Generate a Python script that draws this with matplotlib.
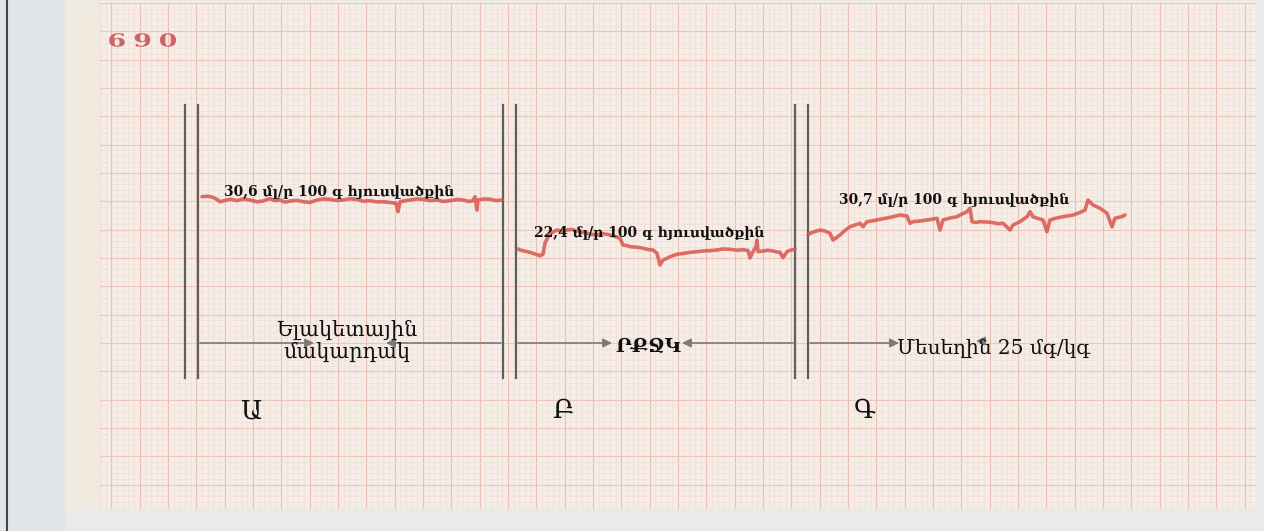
import numpy as np
import matplotlib
matplotlib.use("Agg")
import matplotlib.pyplot as plt
from matplotlib.patches import Rectangle, PathPatch
from matplotlib.textpath import TextPath
from matplotlib.font_manager import FontProperties
from matplotlib.transforms import Affine2D

# Recorder trace (x to the right, y downwards)
trace_a_x = [202, 208, 213, 217, 220, 226, 231, 237, 243, 250, 257, 263, 267, 270, 275, 280, 285,
             290, 297, 303, 310, 317, 323, 330, 337, 343, 350, 357, 363, 370, 377, 383, 390, 396,
             398, 400, 405, 410, 417, 423, 430, 437, 443, 450, 457, 463, 469, 473, 475, 477, 478,
             484, 490, 496, 502]
trace_a_y = [196.7, 196.2, 197.3, 199.5, 201.7, 200.2, 199.3, 200.6, 199.0, 200.0, 201.8, 201.0,
             199.5, 198.7, 200.6, 200.0, 202.2, 201.0, 200.4, 201.7, 202.4, 200.0, 199.0, 199.3,
             200.5, 200.0, 198.8, 199.3, 201.2, 200.7, 201.9, 201.7, 202.5, 203.3, 211.7, 201.7,
             200.8, 200.0, 198.9, 199.3, 200.6, 200.0, 201.4, 200.7, 199.5, 200.0, 201.5, 200.7,
             196.7, 210.0, 200.0, 199.0, 199.3, 200.6, 200.0]

trace_b_x = [518, 520, 525, 530, 535, 540, 543, 545, 548, 552, 557, 562, 567, 572, 577, 582, 587,
             592, 597, 602, 607, 613, 620, 623, 627, 630, 637, 643, 648, 653, 657, 660, 663, 667,
             670, 677, 683, 690, 697, 703, 710, 717, 723, 730, 737, 743, 748, 750, 753, 756, 757,
             758, 763, 768, 773, 777, 780, 783, 787, 790, 795]
trace_b_y = [249.0, 250.0, 251.2, 252.3, 254.0, 255.7, 254.3, 243.3, 236.7, 232.5, 230.0, 231.2,
             230.0, 229.5, 231.0, 232.2, 233.3, 234.5, 235.0, 233.6, 234.3, 235.7, 238.3, 245.0,
             245.6, 246.7, 247.2, 248.3, 249.5, 250.0, 253.3, 265.0, 260.0, 258.3, 256.7, 254.3,
             253.5, 252.3, 251.7, 251.0, 250.6, 250.0, 249.0, 249.3, 250.2, 249.7, 250.5, 258.0,
             251.5, 246.7, 240.0, 251.7, 251.0, 250.2, 251.0, 252.0, 252.3, 257.7, 251.7, 250.3,
             249.3]

trace_c_x = [808, 810, 815, 820, 825, 830, 833, 837, 840, 845, 850, 855, 860, 863, 867, 873, 880,
             887, 893, 900, 907, 910, 913, 920, 927, 932, 937, 940, 943, 950, 957, 962, 967, 970,
             972, 976, 980, 987, 993, 998, 1003, 1010, 1013, 1020, 1027, 1030, 1033, 1038, 1043,
             1047, 1050, 1055, 1060, 1067, 1073, 1080, 1085, 1088, 1093, 1100, 1104, 1107, 1112,
             1115, 1118, 1122, 1125]
trace_c_y = [235.0, 233.3, 231.5, 230.0, 231.0, 233.3, 240.0, 237.2, 235.0, 230.5, 226.7, 225.0,
             223.3, 226.7, 221.7, 220.8, 219.3, 218.0, 216.7, 215.0, 216.0, 223.3, 221.7, 221.0,
             220.0, 219.2, 218.3, 230.0, 220.0, 218.0, 216.7, 214.0, 211.7, 208.3, 221.7, 222.5,
             221.7, 222.0, 222.7, 223.8, 223.3, 230.0, 225.0, 221.7, 216.7, 211.7, 216.7, 218.5,
             220.0, 231.7, 220.0, 218.4, 217.3, 216.0, 215.0, 212.5, 210.0, 200.0, 205.0, 208.3,
             211.0, 213.3, 226.7, 218.3, 217.5, 216.7, 215.0]

# Text on the strip
flow_labels = ["30,6 մլ/ր 100 գ հյուսվածքին",
               "22,4 մլ/ր 100 գ հյուսվածքին",
               "30,7 մլ/ր 100 գ հյուսվածքին"]
stage_notes = ["Ելակետային\nմակարդակ", "ՐՔՋԿ", "Մեսեղին 25 մգ/կգ"]
panel_letters = ["Ա", "Բ", "Գ"]
page_number = "690"

W, H = 1264, 531
paper_red = "#d9564f"
pen_grey = "#5e5e5e"
serif = ["DejaVu Serif", "DejaVu Sans"]

fig = plt.figure(figsize=(W / 100, H / 100), dpi=100, facecolor="#e9eaec")
ax = fig.add_axes([0, 0, 1, 1])
ax.set_xlim(0, W)
ax.set_ylim(H, 0)
ax.axis("off")

# scanner bed + paper
ax.add_patch(Rectangle((0, 0), 65, H, color="#e2e5e8", zorder=0))
ax.plot([7, 7], [0, H], color="#444", lw=1.5, zorder=1)
ax.add_patch(Rectangle((65, 1), 1190, 507, color="#f5ede6", zorder=0))
ax.add_patch(Rectangle((65, 1), 35, 507, color="#f0eadf", zorder=0))

# chart grid, 1 mm minor / 5 mm major
step = 28.33 / 5
gx = np.arange(100, 1255, step)
gy = np.arange(3, 508, step)
for i, x in enumerate(gx):
    major = i % 5 == 2
    ax.plot([x, x], [3, 508], color="#e9bdb0" if major else "#efddd7",
            lw=0.8 if major else 0.5, zorder=1)
for i, y in enumerate(gy):
    major = i % 5 == 0
    ax.plot([100, 1255], [y, y], color="#ecc7bc" if major else "#f0e0da",
            lw=0.8 if major else 0.5, zorder=1)

# page number: wide printed digits, stretched glyph outlines
fp = FontProperties(family="DejaVu Serif", weight="bold")
for k, ch in enumerate(page_number):
    tp = TextPath((0, 0), ch, size=18, prop=fp)
    ext = tp.get_extents()
    tr = (Affine2D().translate(-(ext.x0 + ext.x1) / 2, -(ext.y0 + ext.y1) / 2)
          .scale(1.5, -1.0).translate(117 + k * 25.5, 40) + ax.transData)
    ax.add_patch(PathPatch(tp, transform=tr, facecolor="#cf6468", edgecolor="none", zorder=3))

# pen lifts (double vertical marks)
for xl in (185, 198, 503, 516, 795, 808):
    ax.plot([xl, xl], [105, 378], color=pen_grey, lw=1.6, zorder=2)

# trace
for tx, ty in ((trace_a_x, trace_a_y), (trace_b_x, trace_b_y), (trace_c_x, trace_c_y)):
    ax.plot(tx, ty, color=paper_red, lw=2.6, alpha=0.85, solid_joinstyle="round",
            solid_capstyle="round", zorder=3)

# arrows pointing to stage notes
arrow = dict(arrowstyle="-|>", color="#7a7a7a", lw=1.2, mutation_scale=13, shrinkA=0, shrinkB=0)
for tail, head in (((200, 343), (314, 343)), ((501, 343), (386, 343)),
                   ((518, 343), (612, 343)), ((793, 343), (682, 343)),
                   ((810, 343), (899, 343)), ((986, 341), (976, 341))):
    ax.annotate("", xy=head, xytext=tail, arrowprops=arrow, zorder=2)

# flow values
for (lx, ly), lab in zip(((339, 191), (649, 232), (954, 199)), flow_labels):
    ax.text(lx, ly, lab, fontsize=10, fontweight="bold", family=serif,
            ha="center", va="center", color="#111", zorder=4)

# stage notes
ax.text(347, 341, stage_notes[0], fontsize=15, family=serif, ha="center", va="center",
        linespacing=1.15, color="#111", zorder=4)
ax.text(648, 347, stage_notes[1], fontsize=14, fontweight="bold", family=serif,
        ha="center", va="center", color="#111", zorder=4)
ax.text(994, 348, stage_notes[2], fontsize=14.5, family=serif, ha="center", va="center",
        color="#111", zorder=4)

for lx, lab in zip((251, 563, 865), panel_letters):
    ax.text(lx, 411, lab, fontsize=19, family=serif, ha="center", va="center",
            color="#111", zorder=4)

fig.savefig("out.png", dpi=100, facecolor=fig.get_facecolor())
